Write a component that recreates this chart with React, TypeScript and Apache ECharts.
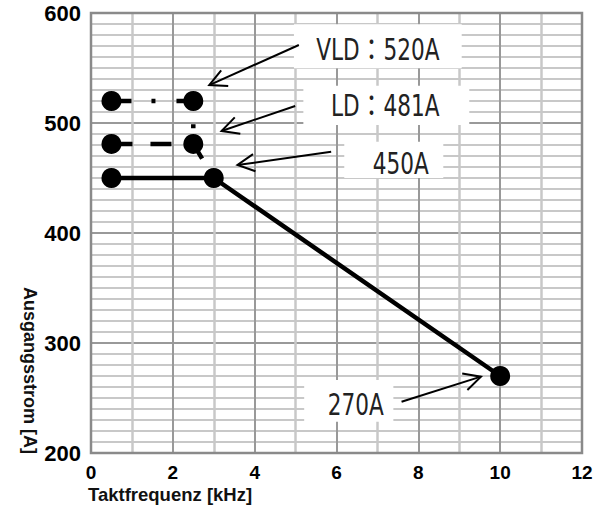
import React, { useEffect, useRef } from "react";
import * as echarts from "echarts";

// Data (x: Taktfrequenz [kHz], y: Ausgangsstrom [A])
const freqSolid = [0.5, 3, 10];
const currentSolid = [450, 450, 270];
const freqLD = [0.5, 2.5, 3];
const currentLD = [481, 481, 450];
const freqVLD = [0.5, 2.5, 2.5];
const currentVLD = [520, 520, 481];

const xMin = 0;
const xMax = 12;
const xStep = 2;
const yMin = 200;
const yMax = 600;
const yStep = 100;

// Annotations (in data coordinates)
const annoLabels = ["VLD\uFF1A520A", "LD\uFF1A481A", "450A", "270A"];
const annoTextPos = [
  [7.01, 566.8],
  [7.19, 516.1],
  [7.57, 463.4],
  [6.47, 243.8],
];
const annoBox = [
  [4.96, 589.7, 9.06, 549.7],
  [5.19, 533.9, 9.245, 498.2],
  [6.19, 483.0, 8.61, 450.0],
  [5.21, 266.4, 7.39, 228.5],
];
const annoTail = [
  [5.08, 570.9],
  [4.99, 515.5],
  [5.87, 473.9],
  [7.59, 246.6],
];
const annoTip = [
  [2.89, 534.5],
  [3.19, 492.7],
  [3.58, 461.8],
  [9.53, 269.4],
];

const xName = "Taktfrequenz [kHz]";
const yName = "Ausgangsstrom [A]";

export default function App() {
  const ref = useRef<HTMLDivElement>(null);

  useEffect(() => {
    const el = ref.current;
    if (!el) return;
    const chart = echarts.init(el, null, { renderer: "svg" });
    const font = "'Liberation Sans', Arial, Helvetica, sans-serif";

    const mk = (xs: number[], ys: number[], markers: number) =>
      xs.map((x, i) =>
        i < markers ? { value: [x, ys[i]] } : { value: [x, ys[i]], symbol: "none" }
      );

    const baseSeries = {
      type: "line",
      symbol: "circle",
      symbolSize: 20,
      showSymbol: true,
      silent: true,
      clip: false,
      itemStyle: { color: "#000", borderWidth: 0 },
      z: 20,
    };

    chart.setOption({
      animation: false,
      backgroundColor: "#fff",
      grid: {
        left: 91,
        right: 16,
        top: 13,
        bottom: 54,
        show: true,
        borderColor: "#8a8a8a",
        borderWidth: 2.5,
        backgroundColor: "transparent",
        containLabel: false,
        outerBoundsMode: "none",
        z: 3,
      },
      xAxis: {
        type: "value",
        min: xMin,
        max: xMax,
        interval: xStep,
        axisLine: { show: false },
        axisTick: { show: false },
        minorTick: { show: false, splitNumber: 2 },
        splitLine: { show: true, lineStyle: { color: "#999", width: 2 } },
        minorSplitLine: { show: true, lineStyle: { color: "#c8c8c8", width: 2.5 } },
        axisLabel: {
          color: "#000",
          fontFamily: font,
          fontWeight: "bold",
          fontSize: 19,
          margin: 10,
        },
      },
      yAxis: {
        type: "value",
        min: yMin,
        max: yMax,
        interval: yStep,
        axisLine: { show: false },
        axisTick: { show: false },
        minorTick: { show: false, splitNumber: 10 },
        splitLine: { show: true, lineStyle: { color: "#999", width: 2 } },
        minorSplitLine: { show: true, lineStyle: { color: "#c8c8c8", width: 2 } },
        axisLabel: {
          color: "#000",
          fontFamily: font,
          fontWeight: "bold",
          fontSize: 22,
          margin: 10,
        },
      },
      series: [
        {
          ...baseSeries,
          name: "VLD",
          data: mk(freqVLD, currentVLD, 2),
          lineStyle: { color: "#000", width: 4.5, type: [20, 20, 4, 21] },
        },
        {
          ...baseSeries,
          name: "LD",
          data: mk(freqLD, currentLD, 2),
          lineStyle: { color: "#000", width: 4.5, type: [21, 18] },
        },
        {
          ...baseSeries,
          name: "Normal",
          data: mk(freqSolid, currentSolid, 3),
          lineStyle: { color: "#000", width: 4.5, type: "solid" },
        },
      ],
    });

    const px = (p: number[]) =>
      chart.convertToPixel({ gridIndex: 0 }, p) as unknown as number[];

    const elements: any[] = [];
    const labelFont = "24px 'Liberation Sans Narrow', 'DejaVu Sans Condensed', 'Noto Sans CJK JP', sans-serif";

    annoLabels.forEach((label, i) => {
      const b = annoBox[i];
      const p1 = px([b[0], b[1]]);
      const p2 = px([b[2], b[3]]);
      elements.push({
        type: "rect",
        z: 10,
        silent: true,
        shape: { x: p1[0], y: p1[1], width: p2[0] - p1[0], height: p2[1] - p1[1] },
        style: { fill: "#fff" },
      });
    });

    annoLabels.forEach((label, i) => {
      const tail = px(annoTail[i]);
      const tip = px(annoTip[i]);
      const dx = tail[0] - tip[0];
      const dy = tail[1] - tip[1];
      const len = Math.sqrt(dx * dx + dy * dy);
      const ux = dx / len;
      const uy = dy / len;
      const ang = (27 * Math.PI) / 180;
      const wing = 19;
      const rot = (a: number) => [
        tip[0] + wing * (ux * Math.cos(a) - uy * Math.sin(a)),
        tip[1] + wing * (ux * Math.sin(a) + uy * Math.cos(a)),
      ];
      elements.push({
        type: "line",
        z: 11,
        silent: true,
        shape: { x1: tail[0], y1: tail[1], x2: tip[0], y2: tip[1] },
        style: { stroke: "#000", lineWidth: 2 },
      });
      elements.push({
        type: "polyline",
        z: 11,
        silent: true,
        shape: { points: [rot(ang), tip, rot(-ang)] },
        style: { stroke: "#000", lineWidth: 2, fill: null },
      });
    });

    annoLabels.forEach((label, i) => {
      const c = px(annoTextPos[i]);
      elements.push({
        type: "text",
        z: 12,
        silent: true,
        x: c[0],
        y: c[1],
        scaleY: 1.25,
        style: {
          text: label,
          x: 0,
          y: 0,
          align: "center",
          verticalAlign: "middle",
          font: labelFont,
          fill: "#222",
        },
      });
    });

    // Axis titles
    elements.push({
      type: "text",
      z: 12,
      silent: true,
      x: 88,
      y: 494,
      style: {
        text: xName,
        x: 0,
        y: 0,
        align: "left",
        verticalAlign: "middle",
        font: "bold 18.5px " + font,
        fill: "#111",
      },
    });
    elements.push({
      type: "text",
      z: 12,
      silent: true,
      x: 30,
      y: 370.5,
      rotation: -Math.PI / 2,
      style: {
        text: yName,
        x: 0,
        y: 0,
        align: "center",
        verticalAlign: "middle",
        font: "bold 18px " + font,
        fill: "#111",
      },
    });

    chart.setOption({ graphic: { elements } });

    return () => {
      chart.dispose();
    };
  }, []);

  return (
    <div
      ref={ref}
      style={{ position: "fixed", left: 0, top: 0, width: 598, height: 507, background: "#fff" }}
    />
  );
}
